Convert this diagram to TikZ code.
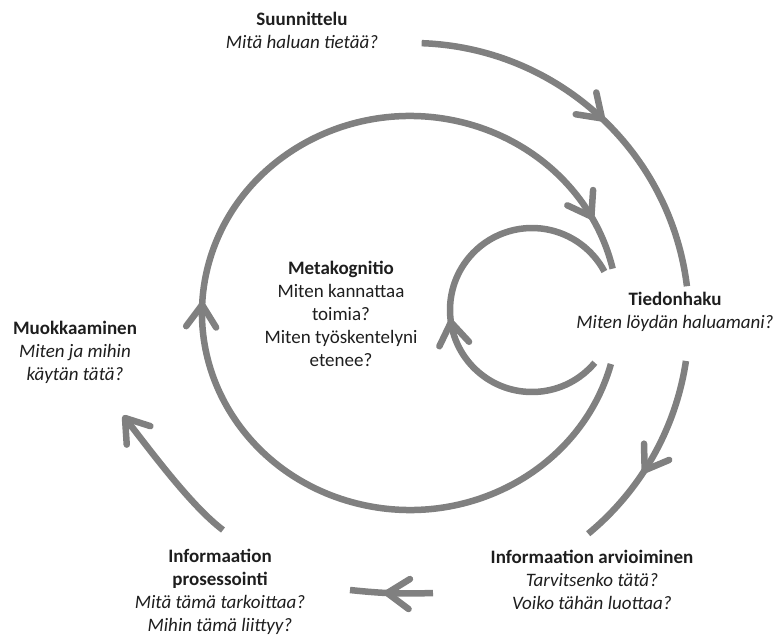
\documentclass[tikz,border=0pt]{standalone}
\usepackage{fontspec}
\setmainfont{Carlito}
\usetikzlibrary{decorations.markings}
\definecolor{linegray}{RGB}{128,128,128}
\definecolor{txt}{RGB}{30,30,30}
\tikzset{
  flow/.style={draw=linegray, line width=6.5pt, line cap=butt},
  chev/.style={draw=linegray, line width=6.5pt, line cap=round, line join=round},
  midarrow/.style={postaction={decorate, decoration={markings, mark=at position #1 with {\draw[chev] (-22,-15) -- (0,0) -- (-22,15);}}}},
  lbl/.style={text=txt, align=center, font=\fontsize{19}{23}\selectfont, inner sep=0pt},
}
\begin{document}
\begin{tikzpicture}[x=1pt,y=-1pt]
\useasboundingbox (0,0) rectangle (777,639);
\coordinate (O) at (412,320);
\coordinate (M) at (410,313);
\coordinate (C) at (532,310);
% outer ring segments
\draw[flow, midarrow=0.51] ([shift={(-88:277)}]O) arc[start angle=-88, end angle=-7, radius=277];
\draw[flow, midarrow=0.58] ([shift={(8.5:277)}]O) arc[start angle=8.5, end angle=50.5, radius=277];
\coordinate (Ba) at (433,593);
\coordinate (Bb) at (350,590);
\draw[flow, midarrow=0.55] (Ba) to[bend left=4] (Bb);
\coordinate (La) at (223,530);
\coordinate (Lb) at (125,418);
\draw[flow, midarrow=0.9999] (La) .. controls (191,506) and (150,450) .. (Lb);
% middle ring
\draw[flow, midarrow=0.504, midarrow=0.952] ([shift={(15:208 and 197)}]M) arc[start angle=15, end angle=347, x radius=208, y radius=197];
% inner loop
\draw[flow, midarrow=0.45] ([shift={(40:82)}]C) arc[start angle=40, end angle=332, radius=82];
% labels
\node[lbl] (suun) at (302,30) {\textbf{Suunnittelu}\\\textit{Mitä haluan tietää?}};
\node[lbl] (tied) at (675,312) {\textbf{Tiedonhaku}\\\textit{Miten löydän haluamani?}};
\node[lbl] (arvi) at (592,580) {\textbf{Informaation arvioiminen}\\\textit{Tarvitsenko tätä?}\\\textit{Voiko tähän luottaa?}};
\node[lbl] (pros) at (220,592) {\textbf{Informaation}\\\textbf{prosessointi}\\\textit{Mitä tämä tarkoittaa?}\\\textit{Mihin tämä liittyy?}};
\node[lbl] (muok) at (75,352) {\textbf{Muokkaaminen}\\\textit{Miten ja mihin}\\\textit{käytän tätä?}};
\node[lbl] (meta) at (341,314) {\textbf{Metakognitio}\\Miten kannattaa\\toimia?\\Miten työskentelyni\\etenee?};
\end{tikzpicture}
\end{document}
